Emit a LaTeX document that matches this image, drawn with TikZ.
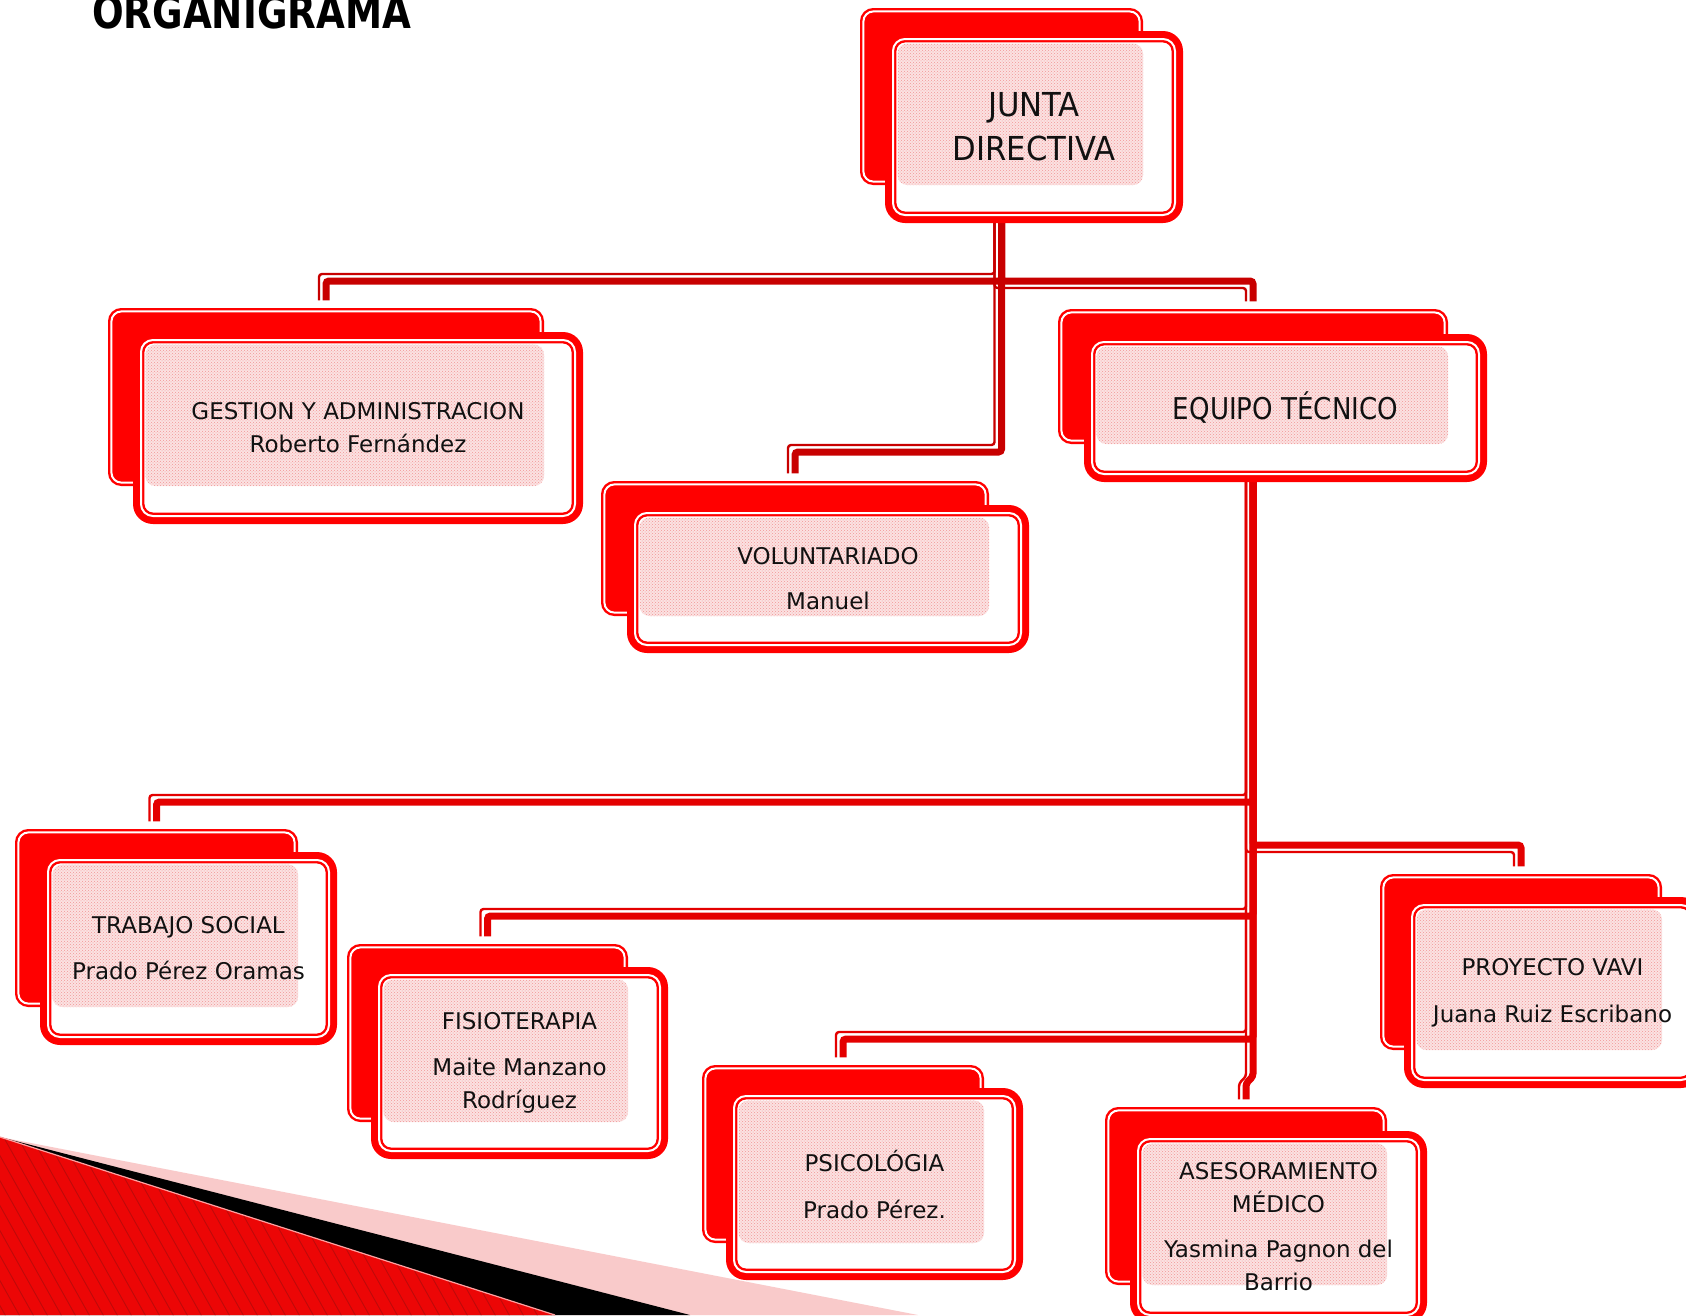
\documentclass[tikz,border=0pt]{standalone}
\usepackage{fontspec}
\setmainfont{DejaVu Sans}
\usepackage{graphicx}
\usetikzlibrary{calc,patterns}
\pgfdeclarelayer{deco}
\pgfdeclarelayer{background}
\pgfsetlayers{deco,background,main}
\definecolor{boxred}{RGB}{255,0,0}
\definecolor{conA}{RGB}{200,0,0}
\definecolor{conB}{RGB}{228,0,0}
\definecolor{ovlpink}{RGB}{251,226,226}
\definecolor{ovldot}{RGB}{242,150,150}
\definecolor{wedgepink}{RGB}{249,202,202}
\definecolor{wedgered}{RGB}{236,6,6}
\definecolor{wedgelight}{RGB}{246,78,78}
\definecolor{stripered}{RGB}{190,10,10}
\definecolor{wedgeedge}{RGB}{255,160,160}
\definecolor{txt}{RGB}{17,17,17}
\tikzset{
  backbox/.style={draw=boxred, fill=boxred, line width=2.4, double=white, double distance=2,
    rounded corners=10, inner sep=0, outer sep=0},
  frontouter/.style={fill=boxred, rounded corners=20, inner sep=0, outer sep=0},
  frontbox/.style={fill=white, draw=boxred, line width=2.4, double=white, double distance=2,
    rounded corners=12, inner sep=0, outer sep=0},
  ovl/.style={fill=ovlpink, rounded corners=10, postaction={pattern=crosshatch dots, pattern color=ovldot}},
  lbl/.style={align=center, inner sep=0, text=txt, font=\fontsize{23}{33}\selectfont},
  lblbig/.style={lbl, font=\fontsize{33}{44}\selectfont},
  lblmid/.style={lbl, font=\fontsize{30}{36}\selectfont},
  titletext/.style={anchor=base west, inner sep=0, text=black, font=\bfseries\fontsize{46}{46}\selectfont},
  conthick/.style={draw=#1, line width=7, rounded corners=3},
  conthin/.style={draw=#1, line width=2.4, rounded corners=3},
  stripe/.style={draw=stripered, line width=0.9},
}
% #1 name, #2 #3 back centre, #4 #5 back outer size, #6 #7 front centre, #8 #9 front outer size
\newcommand{\orgbox}[9]{%
  \node[backbox, minimum width={#4-6.8}, minimum height={#5-6.8}] (#1b) at (#2,#3) {};
  \node[frontouter, minimum width={#8}, minimum height={#9}] (#1o) at (#6,#7) {};
  \node[frontbox, minimum width={#8-16}, minimum height={#9-16}] (#1f) at (#6,#7) {};
  \fill[ovl] ([shift={(4.5,4.5)}]#1f.north west) rectangle ([shift={(3.4,3.4)}]#1b.south east);
}
\begin{document}
\begin{tikzpicture}[x=1pt,y=-1pt]
\useasboundingbox (0,0) rectangle (1686,1315);

% decorative wedge, bottom left
\begin{pgfonlayer}{deco}
  \fill[white] (0,0) rectangle (1686,1315);
  \fill[wedgepink] (0,1137) -- (918,1315) -- (0,1315) -- cycle;
  \fill[black] (0,1137) -- (690,1315) -- (0,1315) -- cycle;
  \begin{scope}
    \clip (0,1137) -- (555,1315) -- (0,1315) -- cycle;
    \shade[left color=wedgered, middle color=wedgelight, right color=wedgered] (0,1120) rectangle (560,1315);
    \foreach \s in {-160,-146,...,560} \draw[stripe] (\s,1120) -- ++(112,200);
  \end{scope}
  \draw[wedgeedge, line width=1.2] (0,1137) -- (555,1315);
\end{pgfonlayer}

% title
\node[titletext] (ttl) at (92,28) {\scalebox{0.81}[1]{ORGANIGRAMA}};

% boxes
\orgbox{j}{1001.5}{96.5}{283}{177}{1034}{127}{298}{192}
\orgbox{g}{326}{397}{436}{178}{358}{428}{450}{192}
\orgbox{e}{1253}{376.5}{390}{135}{1285.5}{408}{403}{148}
\orgbox{v}{795}{548.5}{388}{135}{828}{579}{402}{148}
\orgbox{t}{156.5}{918}{283}{178}{188.5}{948.5}{297}{193}
\orgbox{f}{487.5}{1033}{281}{178}{519.5}{1063}{297}{192}
\orgbox{p}{843}{1154}{282}{178}{874.5}{1184}{297}{192}
\orgbox{a}{1246}{1196}{282}{178}{1278.5}{1227}{297}{192}
\orgbox{y}{1521}{962}{282}{176}{1552.5}{992.5}{297}{191}

% texts
\node[lblbig] (jt) at (jf.center) {\scalebox{0.93}[1]{JUNTA}\\\scalebox{0.93}[1]{DIRECTIVA}};
\node[lbl] (gt) at (gf.center) {GESTION Y ADMINISTRACION\\Roberto Fernández};
\node[lblmid] (et) at (ef.center) {\scalebox{0.87}[1]{EQUIPO TÉCNICO}};
\node[lbl] (vt) at (vf.center) {VOLUNTARIADO\\[12pt]Manuel};
\node[lbl] (tt) at (tf.center) {TRABAJO SOCIAL\\[13pt]Prado Pérez Oramas};
\node[lbl] (ft) at (ff.center) {FISIOTERAPIA\\[13pt]Maite Manzano\\Rodríguez};
\node[lbl] (pt) at (pf.center) {PSICOLÓGIA\\[14pt]Prado Pérez.};
\node[lbl] (at) at (af.center) {ASESORAMIENTO\\MÉDICO\\[12pt]Yasmina Pagnon del\\Barrio};
\node[lbl] (yt) at (yf.center) {PROYECTO VAVI\\[14pt]Juana Ruiz Escribano};

% bus levels
\coordinate (busJG) at (0,281);
\coordinate (busJV) at (0,452);
\coordinate (busT) at (0,802);
\coordinate (busY) at (0,845);
\coordinate (busF) at (0,916);
\coordinate (busP) at (0,1039);

% connectors
\begin{pgfonlayer}{background}
  % thin companion lines (right of the direction of travel)
  \draw[conthin=conA] ($(jb.center)+(-7,0)$) |- ($(busJG -| gb.north)+(-7,-7)$) -- ($(gb.north)+(-7,-11)$);
  \draw[conthin=conA] ($(jb.center)+(-7,0)$) |- ($(busJG -| eb.north)+(-7,7)$) -- ($(eb.north)+(-7,-11)$);
  \draw[conthin=conA] ($(jb.center)+(-7,0)$) |- ($(busJV -| vb.north)+(-7,-7)$) -- ($(vb.north)+(-7,-11)$);
  \draw[conthin=conB] ($(eb.center)+(-7,0)$) |- ($(busT -| tb.north)+(-7,-7)$) -- ($(tb.north)+(-7,-11)$);
  \draw[conthin=conB] ($(eb.center)+(-7,0)$) |- ($(busY -| yb.north)+(-7,7)$) -- ($(yb.north)+(-7,-11)$);
  \draw[conthin=conB] ($(eb.center)+(-7,0)$) |- ($(busF -| fb.north)+(-7,-7)$) -- ($(fb.north)+(-7,-11)$);
  \draw[conthin=conB] ($(eb.center)+(-7,0)$) |- ($(busP -| pb.north)+(-7,-7)$) -- ($(pb.north)+(-7,-11)$);
  \draw[conthin=conB] ($(eb.center)+(-7,0)$) -- ($(eb.center |- ab.north)+(-7,-34)$) -- ($(ab.north)+(-7,-27)$) -- ($(ab.north)+(-7,-11)$);
  % main thick lines
  \draw[conthick=conA] (jb.center) |- (busJG -| gb.north) -- ($(gb.north)+(0,-11)$);
  \draw[conthick=conA] (jb.center) |- (busJG -| eb.north) -- ($(eb.north)+(0,-11)$);
  \draw[conthick=conA] (jb.center) |- (busJV -| vb.north) -- ($(vb.north)+(0,-11)$);
  \draw[conthick=conB] (eb.center) |- (busT -| tb.north) -- ($(tb.north)+(0,-11)$);
  \draw[conthick=conB] (eb.center) |- (busY -| yb.north) -- ($(yb.north)+(0,-11)$);
  \draw[conthick=conB] (eb.center) |- (busF -| fb.north) -- ($(fb.north)+(0,-11)$);
  \draw[conthick=conB] (eb.center) |- (busP -| pb.north) -- ($(pb.north)+(0,-11)$);
  \draw[conthick=conB] (eb.center) -- ($(eb.center |- ab.north)+(0,-34)$) -- ($(ab.north)+(0,-27)$) -- ($(ab.north)+(0,-11)$);
\end{pgfonlayer}
\end{tikzpicture}
\end{document}
